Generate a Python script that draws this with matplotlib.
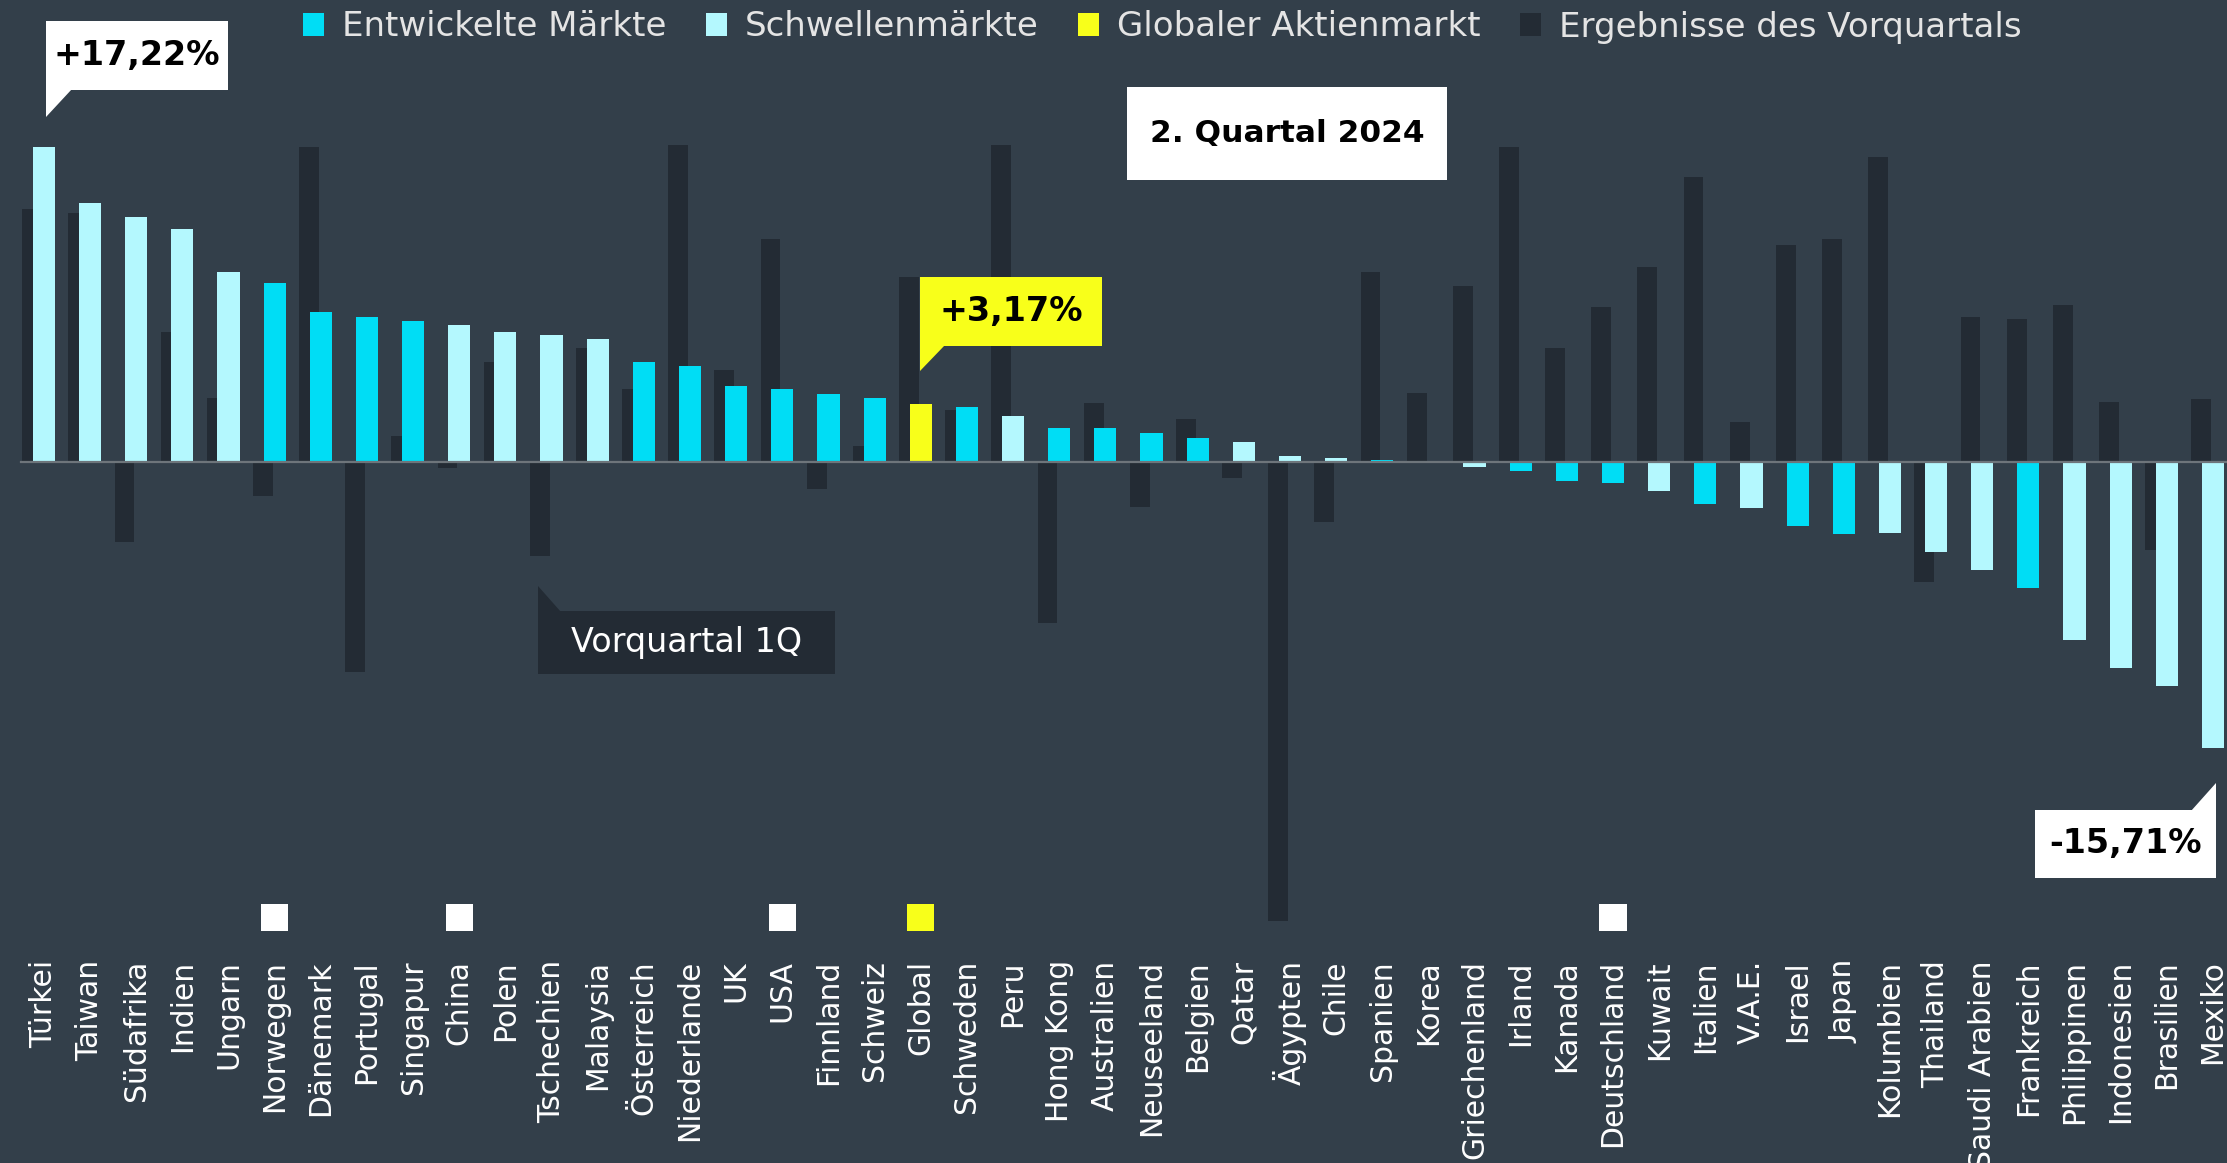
import matplotlib
matplotlib.use("Agg")
import matplotlib.pyplot as plt
import numpy as np
from matplotlib.patches import Patch, Rectangle, Polygon


## Data: MSCI country returns in %, 2nd quarter 2024 vs previous quarter
countries = ["Türkei", "Taiwan", "Südafrika", "Indien", "Ungarn", "Norwegen",
             "Dänemark", "Portugal", "Singapur", "China", "Polen", "Tschechien",
             "Malaysia", "Österreich", "Niederlande", "UK", "USA", "Finnland",
             "Schweiz", "Global", "Schweden", "Peru", "Hong Kong", "Australien",
             "Neuseeland", "Belgien", "Qatar", "Ägypten", "Chile", "Spanien",
             "Korea", "Griechenland", "Irland", "Kanada", "Deutschland", "Kuwait",
             "Italien", "V.A.E.", "Israel", "Japan", "Kolumbien", "Thailand",
             "Saudi Arabien", "Frankreich", "Philippinen", "Indonesien",
             "Brasilien", "Mexiko"]

q2_2024 = [17.22, 14.16, 13.39, 12.73, 10.41, 9.77, 8.22, 7.91, 7.69, 7.47,
           7.12, 6.92, 6.70, 5.48, 5.26, 4.16, 3.97, 3.73, 3.51, 3.17,
           2.98, 2.52, 1.86, 1.86, 1.56, 1.32, 1.10, 0.33, 0.22, 0.11,
           -0.03, -0.31, -0.53, -1.08, -1.19, -1.62, -2.30, -2.52, -3.51, -3.95,
           -3.93, -4.93, -5.92, -6.90, -9.75, -11.29, -12.27, -15.71]

q1_2024 = [13.83, 13.61, -4.38, 7.12, 3.51, -1.86, 17.24, -11.51, 1.42, -0.33,
           5.48, -5.15, 6.25, 3.97, 17.35, 5.04, 12.20, -1.51, 0.88, 10.12,
           2.83, 17.35, -8.86, 3.20, -2.50, 2.32, -0.88, -25.15, -3.29, 10.41,
           3.75, 9.64, 17.24, 6.25, 8.46, 10.65, 15.60, 2.19, 11.86, 12.20,
           16.70, -6.58, 7.91, 7.80, 8.57, 3.29, -4.82, 3.42]

# D = entwickelt, E = Schwellenmarkt, G = global
market = ["E", "E", "E", "E", "E", "D", "D", "D", "D", "E", "E", "E",
          "E", "D", "D", "D", "D", "D", "D", "G", "D", "E", "D", "D",
          "D", "D", "E", "E", "E", "D", "E", "E", "D", "D", "D", "E",
          "D", "E", "D", "D", "E", "E", "E", "D", "E", "E", "E", "E"]

flagged = ["Norwegen", "China", "USA", "Global", "Deutschland"]

legend_labels = ["Entwickelte Märkte", "Schwellenmärkte",
                 "Globaler Aktienmarkt", "Ergebnisse des Vorquartals"]


## Style
BG = "#333f4a"
DARK = "#232b34"
CYAN = "#00ddf5"
LIGHT = "#b4f8fe"
YELLOW = "#f8ff1a"
ZERO = "#6e757b"
COLORS = {"D": CYAN, "E": LIGHT, "G": YELLOW}

W, H = 2227, 1163
AX_BOTTOM = 958          # pixel row where the plot area ends (labels below)
X0, DX = 43.9, 46.15     # pixel of first bar, pixels per category
Y0, DY = 461.7, 18.25    # pixel row of 0 %, pixels per %


def to_data(x, y):
  return (x - X0) / DX, (Y0 - y) / DY


fig = plt.figure(figsize=(W / 100, H / 100), dpi=100)
fig.patch.set_facecolor(BG)
ax = fig.add_axes([0, (H - AX_BOTTOM) / H, 1, AX_BOTTOM / H])
ax.set_facecolor(BG)
ax.set_xlim(to_data(0, 0)[0], to_data(W, 0)[0])
ax.set_ylim(to_data(0, AX_BOTTOM)[1], to_data(0, 0)[1])

idx = np.arange(len(countries))

## previous quarter behind, current quarter in front
ax.bar(idx - 0.255, q1_2024, width=0.43, color=DARK, zorder=1)
ax.bar(idx, q2_2024, width=0.48, color=[COLORS[m] for m in market], zorder=2)
ax.axhline(0, xmin=21 / W, color=ZERO, lw=1.6, zorder=3)

## category labels
ax.set_xticks(idx, countries, rotation=90, fontsize=21.5, color="white")
ax.tick_params(axis="x", length=0, pad=1.5)
ax.set_yticks([])
for s in ax.spines.values():
  s.set_visible(False)

## small squares above some labels
fidx = [countries.index(c) for c in flagged]
fcol = [YELLOW if market[i] == "G" else "white" for i in fidx]
ax.scatter(fidx, [to_data(0, 917.5)[1]] * len(fidx), marker="s", s=378,
           c=fcol, linewidths=0, zorder=5)


## callouts (box + optional pointer, in pixel coords of the picture)
def callout(box, tri, text, face, tcolor, weight="bold", size=24):
  x1, y1 = to_data(box[0], box[3])
  x2, y2 = to_data(box[2], box[1])
  ax.add_patch(Rectangle((x1, y1), x2 - x1, y2 - y1, facecolor=face,
                         edgecolor="none", zorder=6, clip_on=False))
  if tri:
    ax.add_patch(Polygon([to_data(*p) for p in tri], closed=True,
                         facecolor=face, edgecolor="none", zorder=6, clip_on=False))
  ax.text((x1 + x2) / 2, (y1 + y2) / 2, text, ha="center", va="center",
          color=tcolor, fontsize=size, fontweight=weight, zorder=7)


callout((46, 21, 228, 90), [(46, 89), (72, 89), (46, 117)],
        "+17,22%", "white", "black")
callout((920, 277, 1102, 346), [(920, 345), (945, 345), (920, 371)],
        "+3,17%", YELLOW, "black")
callout((2035, 810, 2216, 878), [(2191, 811), (2216, 811), (2216, 783)],
        "-15,71%", "white", "black")
callout((1127, 87, 1447, 180), None, "2. Quartal 2024", "white", "black",
        size=22.5)
callout((538, 611, 835, 674), [(538, 612), (561, 612), (538, 586)],
        "Vorquartal 1Q", DARK, "white", weight="normal", size=24)

## legend
handles = [Patch(facecolor=c, edgecolor="none") for c in (CYAN, LIGHT, YELLOW, DARK)]
ax.legend(handles, legend_labels, loc="center left",
          bbox_to_anchor=(303 / W, 1 - 27 / H), bbox_transform=fig.transFigure,
          ncol=4, frameon=False, fontsize=24.5, labelcolor="#e4e4e4",
          handlelength=0.62, handleheight=0.62, handletextpad=0.53,
          columnspacing=1.15, borderpad=0, borderaxespad=0)

fig.savefig("out.png", dpi=100, facecolor=BG)
